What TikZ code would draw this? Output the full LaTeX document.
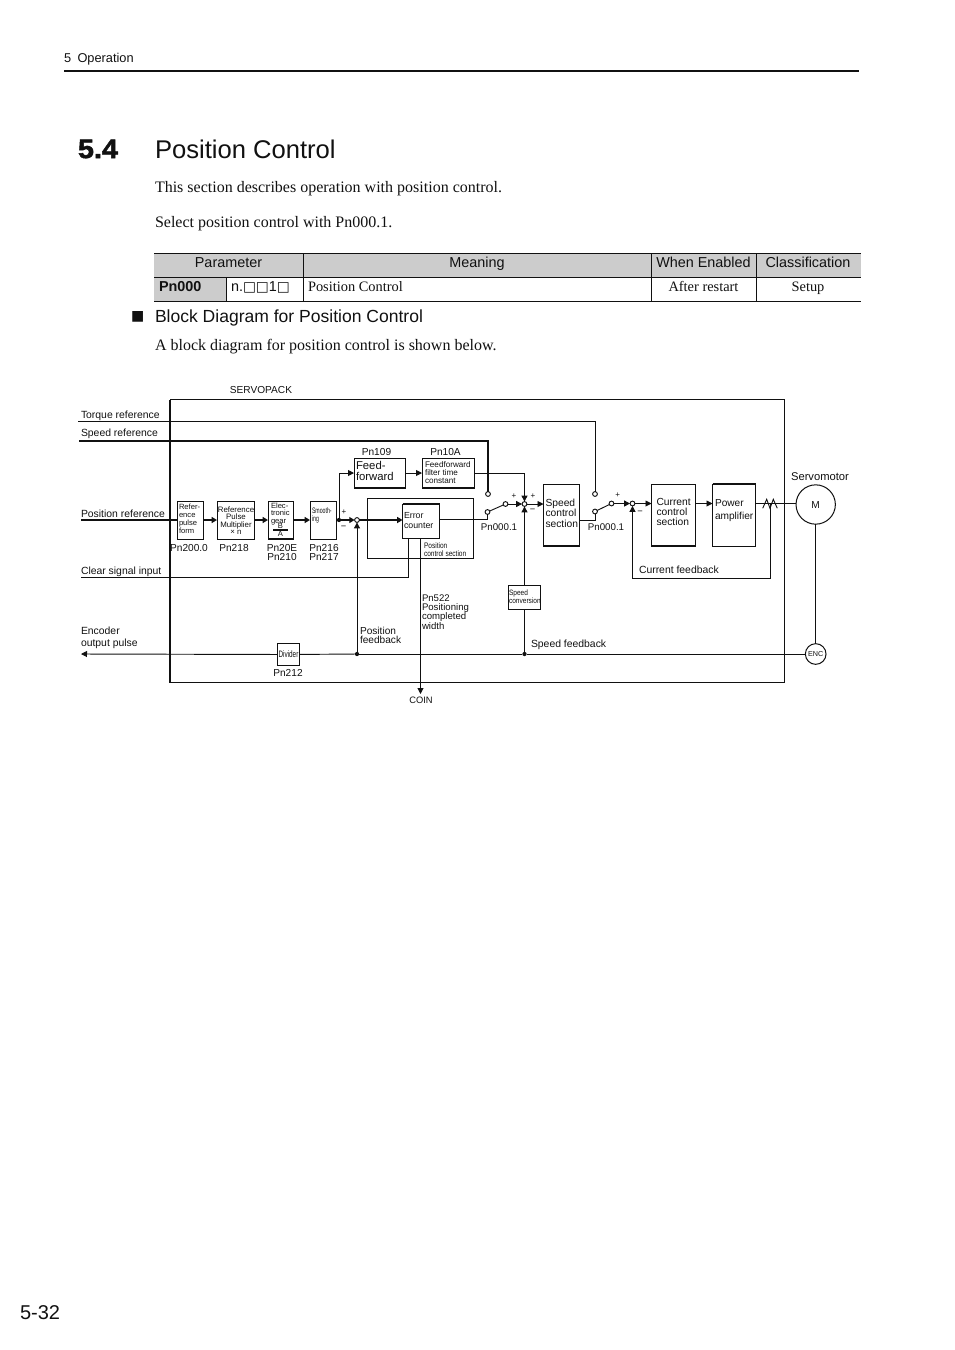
\documentclass[tikz,border=0pt]{standalone}
\usepackage{graphicx}
\usepackage{fontspec}
\setmainfont{Liberation Sans}
\newfontfamily\tms{Liberation Serif}
\newfontfamily\symf{DejaVu Sans}
\newfontfamily\heavy[FakeBold=1.8,FakeStretch=1.08]{Liberation Sans Bold}
\usetikzlibrary{arrows.meta,fit}
\definecolor{ink}{HTML}{111111}
\tikzset{
  thin line/.style={line width=0.7pt,draw=ink},
  fat line/.style={line width=1.8pt,draw=ink},
  arr/.style={thin line,-{Triangle[length=4.5pt,width=4.5pt]}},
  fatarr/.style={fat line,-{Triangle[length=4pt,width=4.5pt]}},
  fs/.style n args={2}{font=\fontsize{#1}{#2}\selectfont},
  lab/.style={inner sep=0pt,outer sep=0pt,text=ink,align=left,anchor=west},
  clab/.style={inner sep=0pt,outer sep=0pt,text=ink,align=center,anchor=center},
  std/.style={fs={7.6}{7},text height=5.4pt,text depth=0pt},
  wide/.style={fs={7.8}{7},text height=5.6pt,text depth=0pt},
  tab/.style={text height=7.7pt,text depth=0pt},
  body/.style={font=\tms\fontsize{12}{14}\selectfont,text height=7.9pt,text depth=0pt},
  box/.style={draw=ink,line width=0.75pt,inner sep=0pt,outer sep=0pt},
  contact/.style={circle,draw=ink,fill=white,line width=0.7pt,minimum size=3.6pt,inner sep=0pt,outer sep=0pt},
  dot/.style={circle,fill=ink,minimum size=3.2pt,inner sep=0pt,outer sep=0pt},
  round/.style={circle,draw=ink,fill=white,line width=0.75pt,inner sep=0pt,outer sep=0pt},
  edge/.style={line width=1.4pt,draw=ink},
}
\newcommand\blk[5]{%
  \coordinate (#1-a) at (#2,#3);\coordinate (#1-b) at (#4,#5);
  \node[box,fit=(#1-a)(#1-b)] (#1) {};}
\begin{document}
\begin{tikzpicture}[x=0.75pt,y=-0.75pt]
\useasboundingbox (0,0) rectangle (954,1350);
% page furniture
\node[lab,fs={9.6}{11},text height=6.9pt,text depth=0pt] (hdr) at (64,57.5) {5\hspace{0.5em}Operation};
\draw[line width=1.5pt,draw=ink] (64,71) -- (859,71);
\node[lab,font=\heavy\fontsize{20}{22}\selectfont] (secno) at (78,149) {5.4};
\node[lab,fs={19.2}{22}] (title) at (155,149.5) {Position Control};
\node[lab,body] (p1) at (155,187.5) {This section describes operation with position control.};
\node[lab,body] (p2) at (155,222) {Select position control with Pn000.1.};
% table
\fill[black!20] (154,253) rectangle (861,277);
\fill[black!20] (154,277) rectangle (226,301);
\foreach \yy in {253,277,301} \draw[line width=0.75pt,draw=ink] (154,\yy) -- (861,\yy);
\draw[line width=0.75pt,draw=ink] (226,277) -- (226,301);
\foreach \xx in {303,651,756} \draw[line width=0.75pt,draw=ink] (\xx,253) -- (\xx,301);
\node[clab,fs={10.8}{12},tab] (t1) at (228.5,262.5) {Parameter};
\node[clab,fs={10.8}{12},tab] (t2) at (477,262.5) {Meaning};
\node[clab,fs={10.8}{12},tab] (t3) at (703.5,262.5) {When Enabled};
\node[clab,fs={10.8}{12},tab] (t4) at (808,262.5) {Classification};
\node[lab,fs={10.8}{12},tab] (t5) at (159,286.5) {\textbf{Pn000}};
\node[lab,fs={10.8}{12},tab] (t6) at (231,286.5) {n.{\symf\fontsize{10.3}{12}\selectfont □□}1{\symf\fontsize{10.3}{12}\selectfont □}};
\node[lab,font=\tms\fontsize{10.8}{12}\selectfont,tab] (t7) at (308,286.5) {Position Control};
\node[clab,font=\tms\fontsize{10.8}{12}\selectfont,tab] (t8) at (703.5,286.5) {After restart};
\node[clab,font=\tms\fontsize{10.8}{12}\selectfont,tab] (t9) at (808,286.5) {Setup};
\node[lab,font=\symf\fontsize{10.5}{12}\selectfont] (bul) at (131,316.5) {■};
\node[lab,fs={13.15}{15},text height=9.4pt,text depth=0pt] (sub) at (155,316) {Block Diagram for Position Control};
\node[lab,body] (p3) at (155,345) {A block diagram for position control is shown below.};
\node[lab,fs={15}{17},text height=10.7pt,text depth=0pt] (pg) at (20,1312.5) {5-32};
% frame
\node[clab,std] (sv) at (261,389.5) {SERVOPACK};
\blk{frame}{170}{399.5}{784.5}{682.5}
\draw[line width=1.3pt,draw=ink] (frame.north west) -- (frame.south west);
% blocks
\blk{rpf}{177}{501.5}{203.5}{539}
\blk{rpm}{217}{501.5}{254.5}{539}
\blk{gear}{268}{501.5}{293.5}{539}
\blk{smo}{310}{501.5}{336.5}{539}
\blk{ff}{354}{458}{405.5}{488}
\blk{fft}{422}{458}{474}{488}
\blk{pcs}{367}{498}{473.5}{558}
\blk{ec}{402.5}{504}{439.5}{538}
\blk{spd}{543.5}{484}{579.5}{546}
\blk{cur}{651.5}{484}{695.5}{546}
\blk{pow}{712.5}{484}{755.5}{546}
\blk{sc}{508.5}{585.5}{540.5}{609.5}
\blk{div}{277.5}{643.5}{299.5}{665.5}
\node[round,minimum size=29.5pt] (mot) at (815.7,504.5) {};
\node[round,minimum size=15.5pt] (enc) at (815.7,654) {};
% accents on block edges
\draw[edge] (gear.south west) -- (gear.south east);
\draw[edge] (ff.south west) -- (ff.south east);
\draw[edge] (fft.south west) -- (fft.south east);
\draw[edge] (ec.north west) -- (ec.north east);
\draw[edge] (spd.south west) -- (spd.south east);
\draw[edge] (cur.south west) -- (cur.south east);
\draw[edge] (pow.north west) -- (pow.north east);
\draw[edge] (sc.north east) -- (sc.south east);
% junctions and contacts
\node[dot] (d1) at (339,520) {};
\node[contact] (pj) at (357,520) {};
\node[contact] (st1) at (488,494) {};
\node[contact] (sl1) at (487.5,512) {};
\node[contact] (sw1) at (505.5,504) {};
\node[contact] (sj) at (524.5,504) {};
\node[contact] (st2) at (595,494) {};
\node[contact] (sl2) at (595,511.5) {};
\node[contact] (sw2) at (611.5,503.5) {};
\node[contact] (cj) at (632.5,503.5) {};
\node[dot] (d2) at (357,654) {};
\node[dot] (d3) at (524.5,654) {};
% free ends
\coordinate (torq) at (78,421);
\coordinate (spref) at (79,441);
\coordinate (posin) at (81,520);
\coordinate (clr) at (81,577);
\coordinate (encout) at (81,654);
\coordinate (coin) at (420.5,694);
\coordinate (ecb) at (408,538);
\coordinate (ecc) at (420.5,538);
\coordinate (ecout) at (439.5,519.5);
\coordinate (spdout) at (579.5,520);
\coordinate (zig) at (770,503.5);
\coordinate (curin) at (651.5,503.5);
\coordinate (curout) at (695.5,503.5);
\coordinate (powin) at (712.5,503.5);
\coordinate (powout) at (755.5,503.5);
% reference lines
\draw[thin line] (torq) -| (st2);
\draw[fat line] (spref) -| (st1);
\draw[fat line] (posin) -- (rpf.west |- posin);
\draw[thin line] (clr) -| (ecb);
% forward path
\draw[fatarr] (rpf.east |- posin) -- (rpm.west |- posin);
\draw[fatarr] (rpm.east |- posin) -- (gear.west |- posin);
\draw[fatarr] (gear.east |- posin) -- (smo.west |- posin);
\draw[fat line] (smo.east |- posin) -- (d1);
\draw[fatarr] (d1) -- (pj);
\draw[arr] (d1) |- (ff.west);
\draw[arr] (ff) -- (fft);
\draw[arr] (fft.east) -| (sj);
\draw[fatarr] (pj) -- (pj -| ec.west);
\draw[thin line] (ecout) -| (sl1);
\draw[thin line] (sl1) -- (sw1);
\draw[arr] (sw1) -- (sj);
\draw[arr] (sj) -- (sj -| spd.west);
\draw[thin line] (spdout) -| (sl2);
\draw[thin line] (sl2) -- (sw2);
\draw[arr] (sw2) -- (cj);
\draw[arr] (cj) -- (curin);
\draw[arr] (curout) -- (powin);
\draw[thin line] (powout) -- (mot.west |- powout);
\draw[thin line] (762.7,508.3) -- (766.7,499.3) -- (770,508.3) -- (773.3,499.3) -- (777.3,508.3);
\draw[arr] (zig) |- (632.5,578.5) -- (cj);
\draw[thin line] (mot) -- (enc);
% feedback
\draw[thin line] (enc) -- (d3);
\draw[thin line] (d3) -- (d2);
\draw[thin line] (d2) -- (div);
\draw[arr] (div) -- (encout);
\draw[arr] (d2) -- (pj);
\draw[thin line] (d3) -- (sc);
\draw[arr] (sc) -- (sj);
\draw[arr] (ecc) -- (coin);
% outside labels
\node[lab,wide] (l1) at (81,414.5) {Torque reference};
\node[lab,wide] (l2) at (81,432.5) {Speed reference};
\node[lab,wide] (l3) at (81,513.5) {Position reference};
\node[lab,wide] (l4) at (81,570.5) {Clear signal input};
\node[lab,fs={7.8}{9}] (l5) at (81,638) {Encoder\\output pulse};
\node[clab,std] (n1) at (189,547.5) {Pn200.0};
\node[clab,std] (n2) at (234,547.5) {Pn218};
\node[clab,fs={7.6}{6.8}] (n3) at (282,552.5) {Pn20E\\Pn210};
\node[clab,fs={7.6}{6.8}] (n4) at (324,552.5) {Pn216\\Pn217};
\node[clab,std] (n5) at (376.5,451.5) {Pn109};
\node[clab,std] (n6) at (445.5,451.5) {Pn10A};
\node[clab,fs={7.3}{7},text height=5.2pt,text depth=0pt] (n7) at (499,527.5) {Pn000.1};
\node[clab,fs={7.3}{7},text height=5.2pt,text depth=0pt] (n8) at (606,527.5) {Pn000.1};
\node[lab,fs={7.2}{7}] (n9) at (422,612) {Pn522\\Positioning\\completed\\width};
\node[lab,fs={7.6}{6.6}] (n10) at (360,635) {Position\\feedback};
\node[lab,wide] (n11) at (531,644) {Speed feedback};
\node[lab,wide] (n12) at (639,570) {Current feedback};
\node[clab,fs={8.4}{9},text height=6pt,text depth=0pt] (n13) at (820,476) {Servomotor};
\node[clab,std] (n14) at (288,672.5) {Pn212};
\node[clab,fs={7}{8},text height=5pt,text depth=0pt] (n15) at (421,700.5) {COIN};
\node[clab,std] (mtxt) at (815.7,504.5) {M};
\node[clab,fs={5.4}{6}] (etxt) at (815.7,654.5) {ENC};
% signs
\node[clab,fs={6}{6}] (s1) at (344,512) {+};
\node[clab,fs={7}{6}] (s2) at (343.7,528) {−};
\node[clab,fs={6}{6}] (s3) at (514,496) {+};
\node[clab,fs={6}{6}] (s4) at (533,496) {+};
\node[clab,fs={7}{6}] (s5) at (532.5,511) {−};
\node[clab,fs={6}{6}] (s6) at (617.7,495) {+};
\node[clab,fs={7}{6}] (s7) at (640,512.7) {−};
% block texts
\node[lab,fs={5.7}{6}] (b1) at (179,519) {Refer-\\ence\\pulse\\form};
\node[clab,fs={5.9}{5.5}] (b2) at (236,520.5) {Reference\\Pulse\\Multiplier\\× n};
\node[lab,fs={5.7}{5.3}] (b3) at (271,514) {Elec-\\tronic\\gear};
\node[clab,fs={5.7}{6}] (b3a) at (280.5,526) {B};
\node[clab,fs={5.7}{6}] (b3b) at (280.5,534) {A};
\draw[line width=0.8pt,draw=ink] (273,530) -- (288,530);
\node[lab,fs={6}{6.4}] (b4) at (312,515.5) {\scalebox{0.65}[1]{Smooth-}\\\scalebox{0.65}[1]{ing}};
\node[lab,fs={8.5}{8.3}] (b5) at (356,470.5) {Feed-\\forward};
\node[lab,fs={6.1}{6}] (b6) at (425,472.5) {Feedforward\\filter time\\constant};
\node[lab,fs={6.6}{6.8}] (b7) at (404,520.5) {Error\\counter};
\node[lab,fs={6}{5.6}] (b8) at (424,549.5) {\scalebox{0.82}[1]{Position}\\\scalebox{0.82}[1]{control section}};
\node[lab,fs={7.7}{7.8}] (b9) at (545.5,513) {Speed\\control\\section};
\node[lab,fs={7.7}{7.8}] (b10) at (656.5,512) {Current\\control\\section};
\node[lab,fs={7.6}{9.7}] (b11) at (715,511) {Power\\amplifier};
\node[lab,fs={5.8}{6}] (b12) at (509,597) {\scalebox{0.85}[1]{Speed}\\\scalebox{0.85}[1]{conversion}};
\node[clab,fs={7}{8}] (b13) at (288.5,654.5) {\scalebox{0.68}[1]{Divider}};
\end{tikzpicture}
\end{document}
